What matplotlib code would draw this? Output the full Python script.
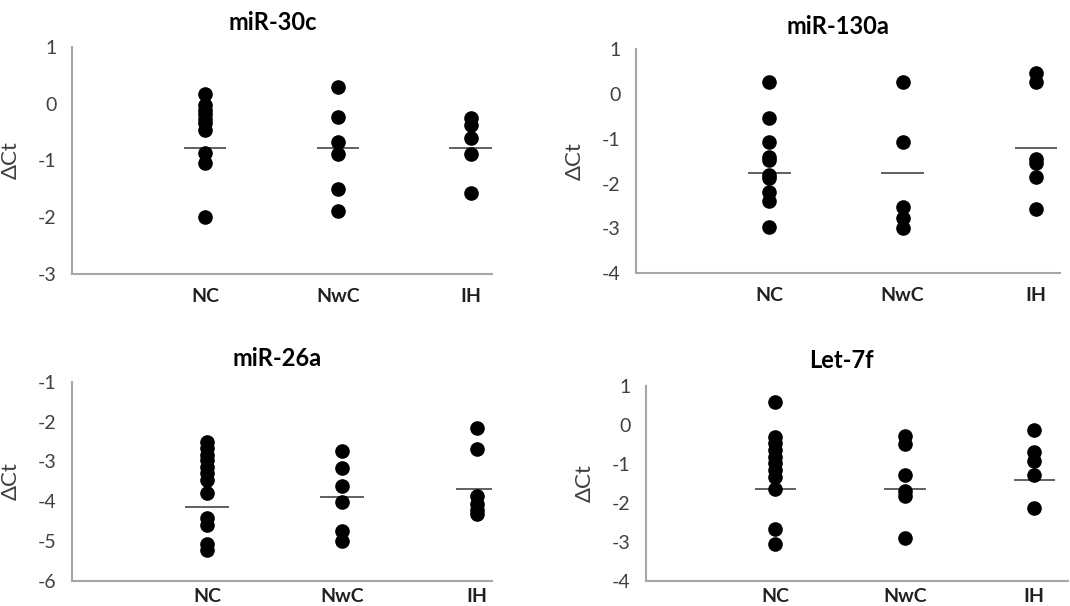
import numpy as np
import matplotlib
matplotlib.use("Agg")
import matplotlib.pyplot as plt

plt.rcParams['font.family'] = ['Lato', 'DejaVu Sans']
plt.rcParams['axes.unicode_minus'] = False

groups = ["NC", "NwC", "IH"]
titles = ["miR-30c", "miR-130a", "miR-26a", "Let-7f"]

# delta Ct values, one list per group
mir30c = [
    [0.17, -0.03, -0.11, -0.19, -0.27, -0.35, -0.47, -0.87, -1.05, -1.99],
    [0.29, -0.23, -0.68, -0.89, -1.51, -1.89],
    [-0.26, -0.38, -0.61, -0.88, -1.57],
]
mir130a = [
    [0.28, -0.54, -1.08, -1.40, -1.48, -1.80, -1.88, -2.18, -2.38, -2.97],
    [0.28, -1.08, -2.53, -2.77, -2.98],
    [0.48, 0.28, -1.44, -1.54, -1.86, -2.57],
]
mir26a = [
    [-2.50, -2.67, -2.84, -2.96, -3.13, -3.30, -3.47, -3.79, -4.43, -4.60, -5.08, -5.24],
    [-2.73, -3.16, -3.61, -4.03, -4.74, -5.01],
    [-2.16, -2.69, -3.86, -4.06, -4.21, -4.31],
]
let7f = [
    [0.60, -0.30, -0.47, -0.64, -0.81, -0.98, -1.15, -1.32, -1.63, -2.67, -3.05],
    [-0.27, -0.48, -1.29, -1.70, -1.81, -2.89],
    [-0.13, -0.69, -0.93, -1.27, -2.13],
]
data = [mir30c, mir130a, mir26a, let7f]

# horizontal bars drawn in the picture
lines = [
    [-0.78, -0.78, -0.78],
    [-1.77, -1.77, -1.20],
    [-4.14, -3.89, -3.69],
    [-1.65, -1.65, -1.42],
]
ylims = [(-3, 1), (-4, 1), (-6, -1), (-4, 1)]

# layout in pixels: left, top, right, bottom, x limit right, title x, title y
W, H = 1070, 606
boxes = [
    (72, 46.7, 492, 274, 3.16, 273, 22),
    (636, 49.3, 1060, 273.3, 3.18, 838, 27),
    (72, 382, 492, 580.7, 3.11, 277, 358),
    (646, 386.3, 1068, 580.7, 3.26, 841, 361),
]
xpads = [10, 10, 5, 5]

fig = plt.figure(figsize=(W / 100, H / 100), dpi=100)
for i in range(4):
    l, t, r, b, xr, tx, ty = boxes[i]
    ax = fig.add_axes([l / W, 1 - b / H, (r - l) / W, (b - t) / H])
    for j, vals in enumerate(data[i]):
        x = np.full(len(vals), j + 1)
        ax.plot(x, vals, 'o', color='black', markersize=9.5, zorder=3)
        ax.hlines(lines[i][j], j + 1 - 0.16, j + 1 + 0.16, color='#555555', lw=1.3, zorder=2)
    ax.set_xlim(0, xr)
    ax.set_ylim(*ylims[i])
    ax.set_yticks(np.arange(ylims[i][0], ylims[i][1] + 1, 1))
    ax.set_xticks([1, 2, 3])
    ax.set_xticklabels(groups, fontweight='bold', fontsize=14)
    for s in ['top', 'right']:
        ax.spines[s].set_visible(False)
    for s in ['left', 'bottom']:
        ax.spines[s].set_color('#a6a6a6')
        ax.spines[s].set_linewidth(1.5)
    ax.tick_params(axis='y', length=0, pad=11, labelsize=14, labelcolor='#404040')
    ax.tick_params(axis='x', length=0, pad=xpads[i], labelcolor='#202020')
    ax.set_ylabel('ΔCt', fontsize=16, color='#404040')
    ax.yaxis.set_label_coords(-51 / (r - l), 0.5)
    fig.text(tx / W, 1 - ty / H, titles[i], ha='center', va='center',
             fontsize=17, fontweight='bold')

fig.savefig('out.png', dpi=100)
